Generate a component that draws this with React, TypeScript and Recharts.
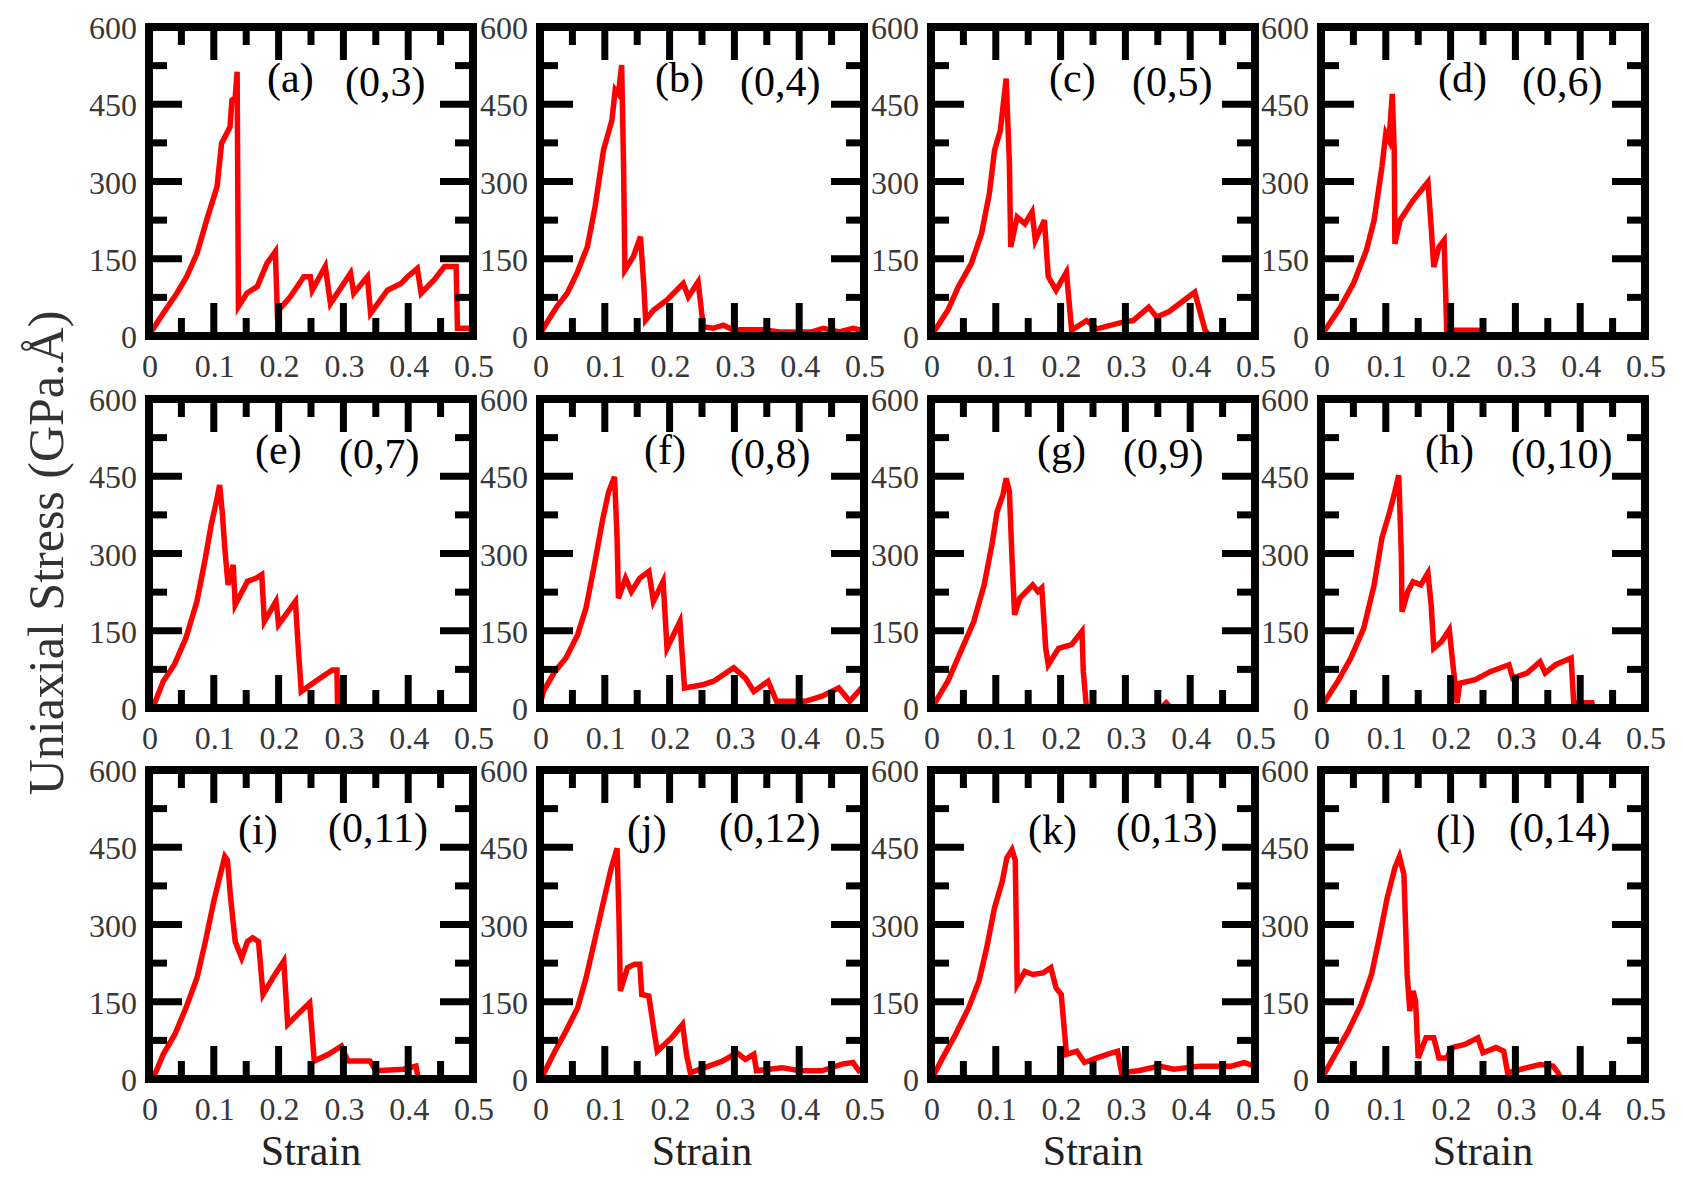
import React from 'react';
import { LineChart, Line, XAxis, YAxis } from 'recharts';

const FONT = '"Liberation Serif", "Times New Roman", Times, serif';

// ---- tick values ----
const X_TICKS = [0, 0.05, 0.1, 0.15, 0.2, 0.25, 0.3, 0.35, 0.4, 0.45, 0.5];
const X_MAJOR = [0, 0.1, 0.2, 0.3, 0.4, 0.5];
const Y_TICKS = [0, 75, 150, 225, 300, 375, 450, 525, 600];
const Y_MAJOR = [0, 150, 300, 450, 600];

// ---- panel labels ----
const PANEL_LETTERS = ['(a)', '(b)', '(c)', '(d)', '(e)', '(f)', '(g)', '(h)', '(i)', '(j)', '(k)', '(l)'];
const PANEL_CHIRAL = ['(0,3)', '(0,4)', '(0,5)', '(0,6)', '(0,7)', '(0,8)', '(0,9)', '(0,10)', '(0,11)', '(0,12)', '(0,13)', '(0,14)'];

// ---- data: strain (x) and uniaxial stress in GPa.Å (y) ----
const aStrain = [0, 0.007, 0.022, 0.043, 0.058, 0.074, 0.089, 0.105, 0.112, 0.125, 0.128, 0.133, 0.136, 0.138, 0.151, 0.167, 0.182, 0.195, 0.198, 0.218, 0.239, 0.249, 0.252, 0.272, 0.28, 0.311, 0.316, 0.337, 0.342, 0.368, 0.389, 0.399, 0.414, 0.42, 0.44, 0.456, 0.474, 0.476, 0.492, 0.5];
const aStress = [5, 15, 44, 83, 115, 160, 225, 290, 374, 406, 458, 462, 513, 57, 83, 96, 141, 164, 47, 76, 115, 115, 89, 135, 63, 122, 83, 115, 44, 89, 102, 115, 131, 83, 109, 135, 135, 15, 15, 12];

const bStrain = [0, 0.008, 0.026, 0.042, 0.057, 0.073, 0.085, 0.098, 0.111, 0.116, 0.121, 0.126, 0.129, 0.131, 0.144, 0.155, 0.16, 0.163, 0.175, 0.196, 0.221, 0.229, 0.244, 0.252, 0.267, 0.283, 0.298, 0.344, 0.37, 0.42, 0.437, 0.462, 0.483, 0.5];
const bStress = [3, 21, 57, 83, 122, 173, 251, 361, 419, 478, 470, 526, 329, 128, 154, 193, 102, 31, 50, 70, 102, 76, 105, 18, 15, 21, 12, 12, 8, 8, 15, 8, 15, 10];

const cStrain = [0, 0.006, 0.026, 0.042, 0.062, 0.078, 0.09, 0.098, 0.107, 0.116, 0.121, 0.123, 0.133, 0.145, 0.156, 0.161, 0.175, 0.181, 0.193, 0.209, 0.217, 0.24, 0.256, 0.296, 0.312, 0.336, 0.348, 0.367, 0.407, 0.423, 0.43, 0.5];
const cStress = [2, 11, 50, 95, 140, 199, 276, 360, 399, 500, 335, 173, 231, 218, 241, 186, 225, 115, 89, 124, 11, 30, 14, 27, 30, 56, 37, 47, 85, 11, 0, 0];

const dStrain = [0, 0.006, 0.03, 0.05, 0.07, 0.082, 0.094, 0.1, 0.105, 0.11, 0.113, 0.114, 0.122, 0.142, 0.165, 0.17, 0.174, 0.182, 0.19, 0.194, 0.242, 0.25];
const dStress = [2, 11, 56, 102, 166, 225, 328, 393, 380, 470, 360, 179, 225, 263, 299, 212, 134, 173, 186, 11, 11, 0];

const eStrain = [0, 0.009, 0.022, 0.039, 0.057, 0.074, 0.087, 0.096, 0.104, 0.109, 0.113, 0.117, 0.122, 0.13, 0.133, 0.152, 0.165, 0.174, 0.178, 0.196, 0.2, 0.226, 0.23, 0.235, 0.257, 0.283, 0.29, 0.291];
const eStress = [2, 10, 52, 84, 136, 207, 291, 356, 401, 433, 381, 310, 239, 278, 200, 246, 252, 259, 168, 207, 162, 207, 123, 32, 52, 74, 74, 0];

const fStrain = [0, 0.005, 0.023, 0.04, 0.058, 0.071, 0.084, 0.097, 0.106, 0.115, 0.119, 0.121, 0.132, 0.141, 0.154, 0.168, 0.175, 0.19, 0.196, 0.216, 0.223, 0.251, 0.268, 0.299, 0.317, 0.33, 0.352, 0.365, 0.409, 0.435, 0.461, 0.478, 0.496, 0.5];
const fStress = [5, 32, 71, 97, 142, 194, 278, 368, 420, 449, 330, 213, 252, 226, 252, 265, 207, 246, 116, 168, 39, 45, 52, 78, 58, 32, 52, 13, 13, 23, 39, 13, 39, 35];

const gStrain = [0, 0.006, 0.026, 0.046, 0.066, 0.082, 0.094, 0.102, 0.111, 0.116, 0.121, 0.125, 0.129, 0.137, 0.157, 0.165, 0.171, 0.177, 0.181, 0.197, 0.217, 0.233, 0.235, 0.24, 0.355, 0.363, 0.37, 0.5];
const gStress = [2, 10, 52, 110, 168, 239, 317, 381, 414, 446, 420, 291, 181, 213, 239, 226, 233, 116, 84, 116, 123, 149, 71, 0, 0, 10, 0, 0];

const hStrain = [0, 0.006, 0.026, 0.046, 0.066, 0.082, 0.094, 0.106, 0.114, 0.12, 0.124, 0.125, 0.134, 0.142, 0.154, 0.165, 0.17, 0.174, 0.186, 0.198, 0.202, 0.21, 0.214, 0.238, 0.262, 0.29, 0.296, 0.318, 0.338, 0.346, 0.362, 0.386, 0.39, 0.418, 0.42];
const hStress = [2, 13, 52, 97, 155, 239, 330, 381, 420, 452, 297, 187, 226, 245, 239, 262, 200, 116, 129, 152, 103, 10, 48, 55, 71, 84, 58, 68, 90, 68, 84, 97, 10, 10, 0];

const iStrain = [0, 0.009, 0.022, 0.04, 0.057, 0.074, 0.087, 0.1, 0.11, 0.117, 0.121, 0.126, 0.133, 0.143, 0.152, 0.16, 0.169, 0.176, 0.191, 0.208, 0.214, 0.229, 0.248, 0.255, 0.277, 0.297, 0.307, 0.341, 0.35, 0.393, 0.412, 0.415];
const iStress = [2, 9, 48, 87, 138, 196, 267, 345, 397, 432, 425, 351, 267, 235, 267, 274, 267, 164, 196, 229, 106, 125, 148, 35, 48, 64, 35, 35, 16, 19, 25, 5];

const jStrain = [0, 0.005, 0.023, 0.04, 0.058, 0.071, 0.084, 0.097, 0.11, 0.119, 0.122, 0.124, 0.135, 0.146, 0.154, 0.157, 0.168, 0.176, 0.181, 0.203, 0.22, 0.226, 0.232, 0.26, 0.282, 0.304, 0.317, 0.33, 0.334, 0.374, 0.4, 0.435, 0.466, 0.483, 0.492, 0.5];
const jStress = [2, 9, 54, 93, 138, 196, 267, 339, 410, 448, 306, 171, 216, 223, 223, 164, 161, 93, 54, 80, 106, 48, 12, 25, 35, 51, 38, 48, 16, 22, 16, 16, 29, 32, 16, 20];

const kStrain = [0, 0.006, 0.018, 0.038, 0.058, 0.074, 0.086, 0.098, 0.11, 0.117, 0.125, 0.13, 0.132, 0.133, 0.145, 0.157, 0.173, 0.185, 0.193, 0.201, 0.205, 0.209, 0.225, 0.237, 0.256, 0.272, 0.288, 0.294, 0.32, 0.352, 0.375, 0.415, 0.463, 0.483, 0.5];
const kStress = [2, 12, 41, 87, 138, 190, 255, 332, 384, 429, 445, 425, 267, 183, 209, 203, 206, 216, 177, 164, 106, 48, 54, 32, 41, 48, 54, 12, 16, 25, 19, 25, 25, 32, 25];

const lStrain = [0, 0.006, 0.022, 0.042, 0.062, 0.078, 0.09, 0.102, 0.114, 0.121, 0.128, 0.13, 0.133, 0.137, 0.142, 0.146, 0.15, 0.162, 0.174, 0.182, 0.194, 0.202, 0.222, 0.242, 0.25, 0.27, 0.282, 0.288, 0.318, 0.338, 0.358, 0.366, 0.37];
const lStress = [2, 12, 48, 93, 145, 203, 274, 351, 410, 432, 397, 319, 203, 132, 171, 150, 41, 80, 80, 41, 41, 61, 67, 80, 51, 61, 54, 12, 22, 28, 25, 12, 0];

const STRAINS = [aStrain, bStrain, cStrain, dStrain, eStrain, fStrain, gStrain, hStrain, iStrain, jStrain, kStrain, lStrain];
const STRESSES = [aStress, bStress, cStress, dStress, eStress, fStress, gStress, hStress, iStress, jStress, kStress, lStress];

// ---- layout ----
const COL_LEFT = [149, 540, 931, 1321];
const ROW_TOP = [27, 398.5, 770];
const PLOT_W = 324;
const PLOT_H = 309;
// axis band sizes (axes take the room instead of margins)
const AX_L = 75, AX_R = 34, AX_T = 24, AX_B = 52;

// label placements (left x, baseline) per panel
const LETTER_X = [267, 655, 1049, 1438, 255, 644, 1037, 1425, 238, 627, 1028, 1436];
const CHIRAL_X = [345, 740, 1132, 1522, 339, 730, 1123, 1511, 328, 719, 1116, 1509];
const LETTER_BASE = [92, 464, 844];
const CHIRAL_BASE = [96, 468, 842];

const MAJOR_LEN = 33;
const MINOR_LEN = 18;
const TICK_W = 7;
const TICK_FONT = 32;
const TICK_COLOR = '#383838';

const near = (v: number, list: number[]) => list.some((m) => Math.abs(m - v) < 1e-9);
const fmtX = (v: number) => (Math.abs(v) < 1e-9 ? '0' : v.toFixed(1));

function BottomTick(props: any) {
  const { x, y, payload } = props;
  const v = payload.value;
  const major = near(v, X_MAJOR);
  return (
    <g>
      <line x1={x} x2={x} y1={y} y2={y - (major ? MAJOR_LEN : MINOR_LEN)} stroke="#000" strokeWidth={TICK_W} />
      {major && (
        <text x={x + 1} y={y + 41} textAnchor="middle" fontFamily={FONT} fontSize={TICK_FONT} fill={TICK_COLOR}>
          {fmtX(v)}
        </text>
      )}
    </g>
  );
}

function TopTick(props: any) {
  const { x, y, payload } = props;
  const major = near(payload.value, X_MAJOR);
  return <line x1={x} x2={x} y1={y} y2={y + (major ? MAJOR_LEN : MINOR_LEN)} stroke="#000" strokeWidth={TICK_W} />;
}

function LeftTick(props: any) {
  const { x, y, payload } = props;
  const v = payload.value;
  const major = near(v, Y_MAJOR);
  return (
    <g>
      <line x1={x} x2={x + (major ? MAJOR_LEN : MINOR_LEN)} y1={y} y2={y} stroke="#000" strokeWidth={TICK_W} />
      {major && (
        <text x={x - 12} y={y + 12} textAnchor="end" fontFamily={FONT} fontSize={TICK_FONT} fill={TICK_COLOR}>
          {String(v)}
        </text>
      )}
    </g>
  );
}

function RightTick(props: any) {
  const { x, y, payload } = props;
  const major = near(payload.value, Y_MAJOR);
  return <line x1={x} x2={x - (major ? MAJOR_LEN : MINOR_LEN)} y1={y} y2={y} stroke="#000" strokeWidth={TICK_W} />;
}

const AXIS_LINE = { stroke: '#000', strokeWidth: 8, strokeLinecap: 'square' as const };

function Panel({ idx }: { idx: number }) {
  const col = idx % 4;
  const row = Math.floor(idx / 4);
  const xs = STRAINS[idx];
  const ys = STRESSES[idx];
  const data = xs.map((s, i) => ({ strain: s, stress: ys[i] }));
  return (
    <div style={{ position: 'absolute', left: COL_LEFT[col] - AX_L, top: ROW_TOP[row] - AX_T }}>
      <LineChart
        width={AX_L + PLOT_W + AX_R}
        height={AX_T + PLOT_H + AX_B}
        data={data}
        margin={{ top: 0, right: 0, bottom: 0, left: 0 }}
      >
        <Line
          xAxisId="b"
          yAxisId="l"
          dataKey="stress"
          type="linear"
          stroke="#ff0000"
          strokeWidth={5.5}
          dot={false}
          activeDot={false}
          isAnimationActive={false}
        />
        <XAxis
          xAxisId="b"
          dataKey="strain"
          type="number"
          domain={[0, 0.5]}
          ticks={X_TICKS}
          interval={0}
          orientation="bottom"
          height={AX_B}
          tickSize={0}
          tickMargin={0}
          tickLine={false}
          axisLine={AXIS_LINE}
          tick={BottomTick}
          allowDataOverflow
        />
        <XAxis
          xAxisId="t"
          dataKey="strain"
          type="number"
          domain={[0, 0.5]}
          ticks={X_TICKS}
          interval={0}
          orientation="top"
          height={AX_T}
          tickSize={0}
          tickMargin={0}
          tickLine={false}
          axisLine={AXIS_LINE}
          tick={TopTick}
          allowDataOverflow
        />
        <YAxis
          yAxisId="l"
          type="number"
          domain={[0, 600]}
          ticks={Y_TICKS}
          interval={0}
          orientation="left"
          width={AX_L}
          tickSize={0}
          tickMargin={0}
          tickLine={false}
          axisLine={AXIS_LINE}
          tick={LeftTick}
          allowDataOverflow
        />
        <YAxis
          yAxisId="r"
          type="number"
          domain={[0, 600]}
          ticks={Y_TICKS}
          interval={0}
          orientation="right"
          width={AX_R}
          tickSize={0}
          tickMargin={0}
          tickLine={false}
          axisLine={AXIS_LINE}
          tick={RightTick}
          allowDataOverflow
        />
      </LineChart>
    </div>
  );
}

export default function App() {
  return (
    <div style={{ position: 'absolute', left: 0, top: 0, width: 1683, height: 1180, background: '#fff', overflow: 'hidden' }}>
      {STRAINS.map((_, i) => (
        <Panel key={i} idx={i} />
      ))}
      <svg
        width={1683}
        height={1180}
        style={{ position: 'absolute', left: 0, top: 0, pointerEvents: 'none' }}
      >
        <text
          x={63}
          y={553}
          transform="rotate(-90 63 553)"
          textAnchor="middle"
          fontFamily={FONT}
          fontSize={50}
          fill="#333"
        >
          Uniaxial Stress (GPa.Å)
        </text>
        {COL_LEFT.map((l, c) => (
          <text key={'s' + c} x={l + PLOT_W / 2} y={1165} textAnchor="middle" fontFamily={FONT} fontSize={42} fill="#222">
            Strain
          </text>
        ))}
        {PANEL_LETTERS.map((t, i) => (
          <text key={'l' + i} x={LETTER_X[i]} y={LETTER_BASE[Math.floor(i / 4)]} fontFamily={FONT} fontSize={42} fill="#000">
            {t}
          </text>
        ))}
        {PANEL_CHIRAL.map((t, i) => (
          <text key={'c' + i} x={CHIRAL_X[i]} y={CHIRAL_BASE[Math.floor(i / 4)]} fontFamily={FONT} fontSize={42} fill="#000">
            {t}
          </text>
        ))}
      </svg>
    </div>
  );
}
